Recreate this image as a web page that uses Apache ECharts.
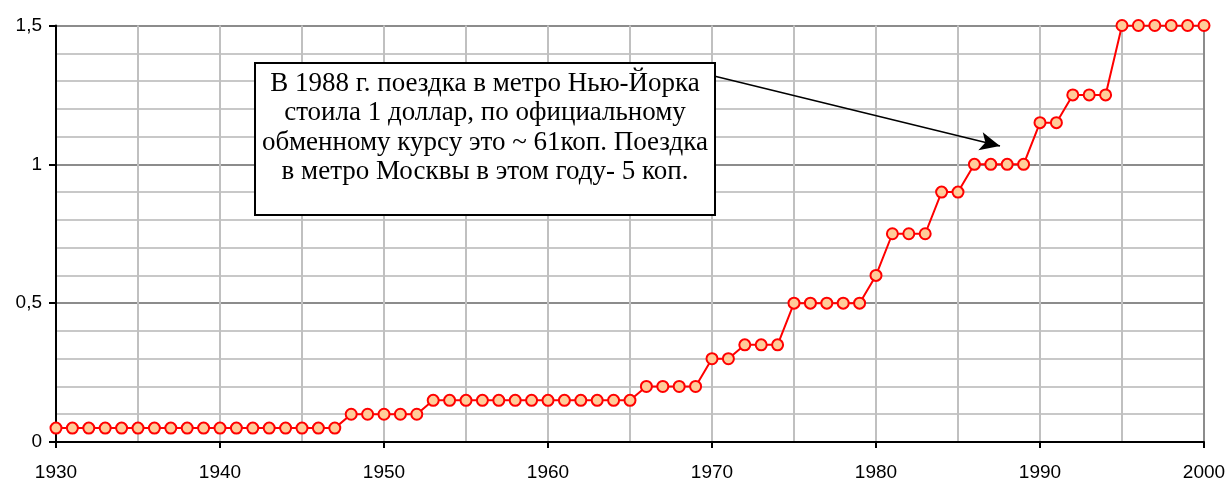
<!DOCTYPE html>
<html><head><meta charset="utf-8">
<script src="https://cdn.jsdelivr.net/npm/echarts@6/dist/echarts.min.js"></script>
<style>html,body{margin:0;padding:0;background:#fff}#c{width:1231px;height:485px}</style>
</head><body><div id="c"></div>
<script>
const years = [1930,1931,1932,1933,1934,1935,1936,1937,1938,1939,1940,1941,1942,1943,1944,1945,1946,1947,1948,1949,1950,1951,1952,1953,1954,1955,1956,1957,1958,1959,1960,1961,1962,1963,1964,1965,1966,1967,1968,1969,1970,1971,1972,1973,1974,1975,1976,1977,1978,1979,1980,1981,1982,1983,1984,1985,1986,1987,1988,1989,1990,1991,1992,1993,1994,1995,1996,1997,1998,1999,2000];
const fares = [0.05,0.05,0.05,0.05,0.05,0.05,0.05,0.05,0.05,0.05,0.05,0.05,0.05,0.05,0.05,0.05,0.05,0.05,
  0.10,0.10,0.10,0.10,0.10,
  0.15,0.15,0.15,0.15,0.15,0.15,0.15,0.15,0.15,0.15,0.15,0.15,0.15,
  0.20,0.20,0.20,0.20,
  0.30,0.30,
  0.35,0.35,0.35,
  0.50,0.50,0.50,0.50,0.50,
  0.60,
  0.75,0.75,0.75,
  0.90,0.90,
  1.00,1.00,1.00,1.00,
  1.15,1.15,
  1.25,1.25,1.25,
  1.50,1.50,1.50,1.50,1.50,1.50];
const noteLines = ["В 1988 г. поездка в метро Нью-Йорка","стоила 1 доллар, по официальному","обменному курсу это ~ 61коп. Поездка","в метро Москвы в этом году- 5 коп."];
const arrowFrom = [1970.12, 1.318];
const arrowTo = [1987.56, 1.066];

const chart = echarts.init(document.getElementById('c'), null, {renderer:'canvas'});
const labelFont = {fontFamily:'Liberation Sans, Arial, sans-serif', fontSize:19, color:'#000'};
chart.setOption({
  animation:false,
  backgroundColor:'#fff',
  grid:{left:56,right:27,top:25.5,bottom:43,containLabel:false},
  xAxis:{type:'value',min:1930,max:2000,interval:10,
    axisLine:{show:true,onZero:false,lineStyle:{color:'#000',width:2}},
    axisTick:{show:true,length:6,lineStyle:{color:'#000',width:2}},
    axisLabel:Object.assign({margin:21,formatter:v=>String(v)},labelFont),
    splitLine:{show:true,lineStyle:{color:'#c0c0c0',width:2}},
    minorTick:{show:false,splitNumber:2},
    minorSplitLine:{show:true,lineStyle:{color:'#c0c0c0',width:2}}
  },
  yAxis:[{type:'value',min:0,max:1.5,interval:0.5,
    axisLine:{show:true,onZero:false,lineStyle:{color:'#000',width:2}},
    axisTick:{show:true,length:7,lineStyle:{color:'#000',width:2}},
    axisLabel:Object.assign({margin:14,formatter:v=>String(v).replace('.',',')},labelFont),
    splitLine:{show:true,lineStyle:{color:'#8c8c8c',width:2}},
    minorTick:{show:false,splitNumber:5},
    minorSplitLine:{show:true,lineStyle:{color:'#c8c8c8',width:2}}
  },{type:'value',min:0,max:1.5,position:'right',
    axisLine:{show:true,lineStyle:{color:'#8c8c8c',width:2}},
    axisTick:{show:false},axisLabel:{show:false},splitLine:{show:false}
  }],
  series:[{type:'line',data:years.map((y,i)=>[y,fares[i]]),
    symbol:'circle',symbolSize:11,
    lineStyle:{color:'#ff0000',width:2},
    itemStyle:{color:'#ffcc99',borderColor:'#ff0000',borderWidth:2},
    z:5,
    markLine:{silent:true,symbol:['none','arrow'],symbolSize:[14,20],
      lineStyle:{color:'#000',width:1.5,type:'solid'},label:{show:false},
      data:[[{coord:arrowFrom},{coord:arrowTo}]]}
  }],
  graphic:[{type:'group',left:254,top:62,z:100,children:[
    {type:'rect',z:100,shape:{x:0,y:0,width:460,height:152},style:{fill:'#ffffff',stroke:'#000',lineWidth:2}},
    {type:'text',z:101,x:230,y:6,style:{text:noteLines.join('\n'),align:'center',verticalAlign:'top',
      font:'27px "Liberation Serif", "Times New Roman", serif',lineHeight:29.5,fill:'#000'}}
  ]}]
});
</script></body></html>
